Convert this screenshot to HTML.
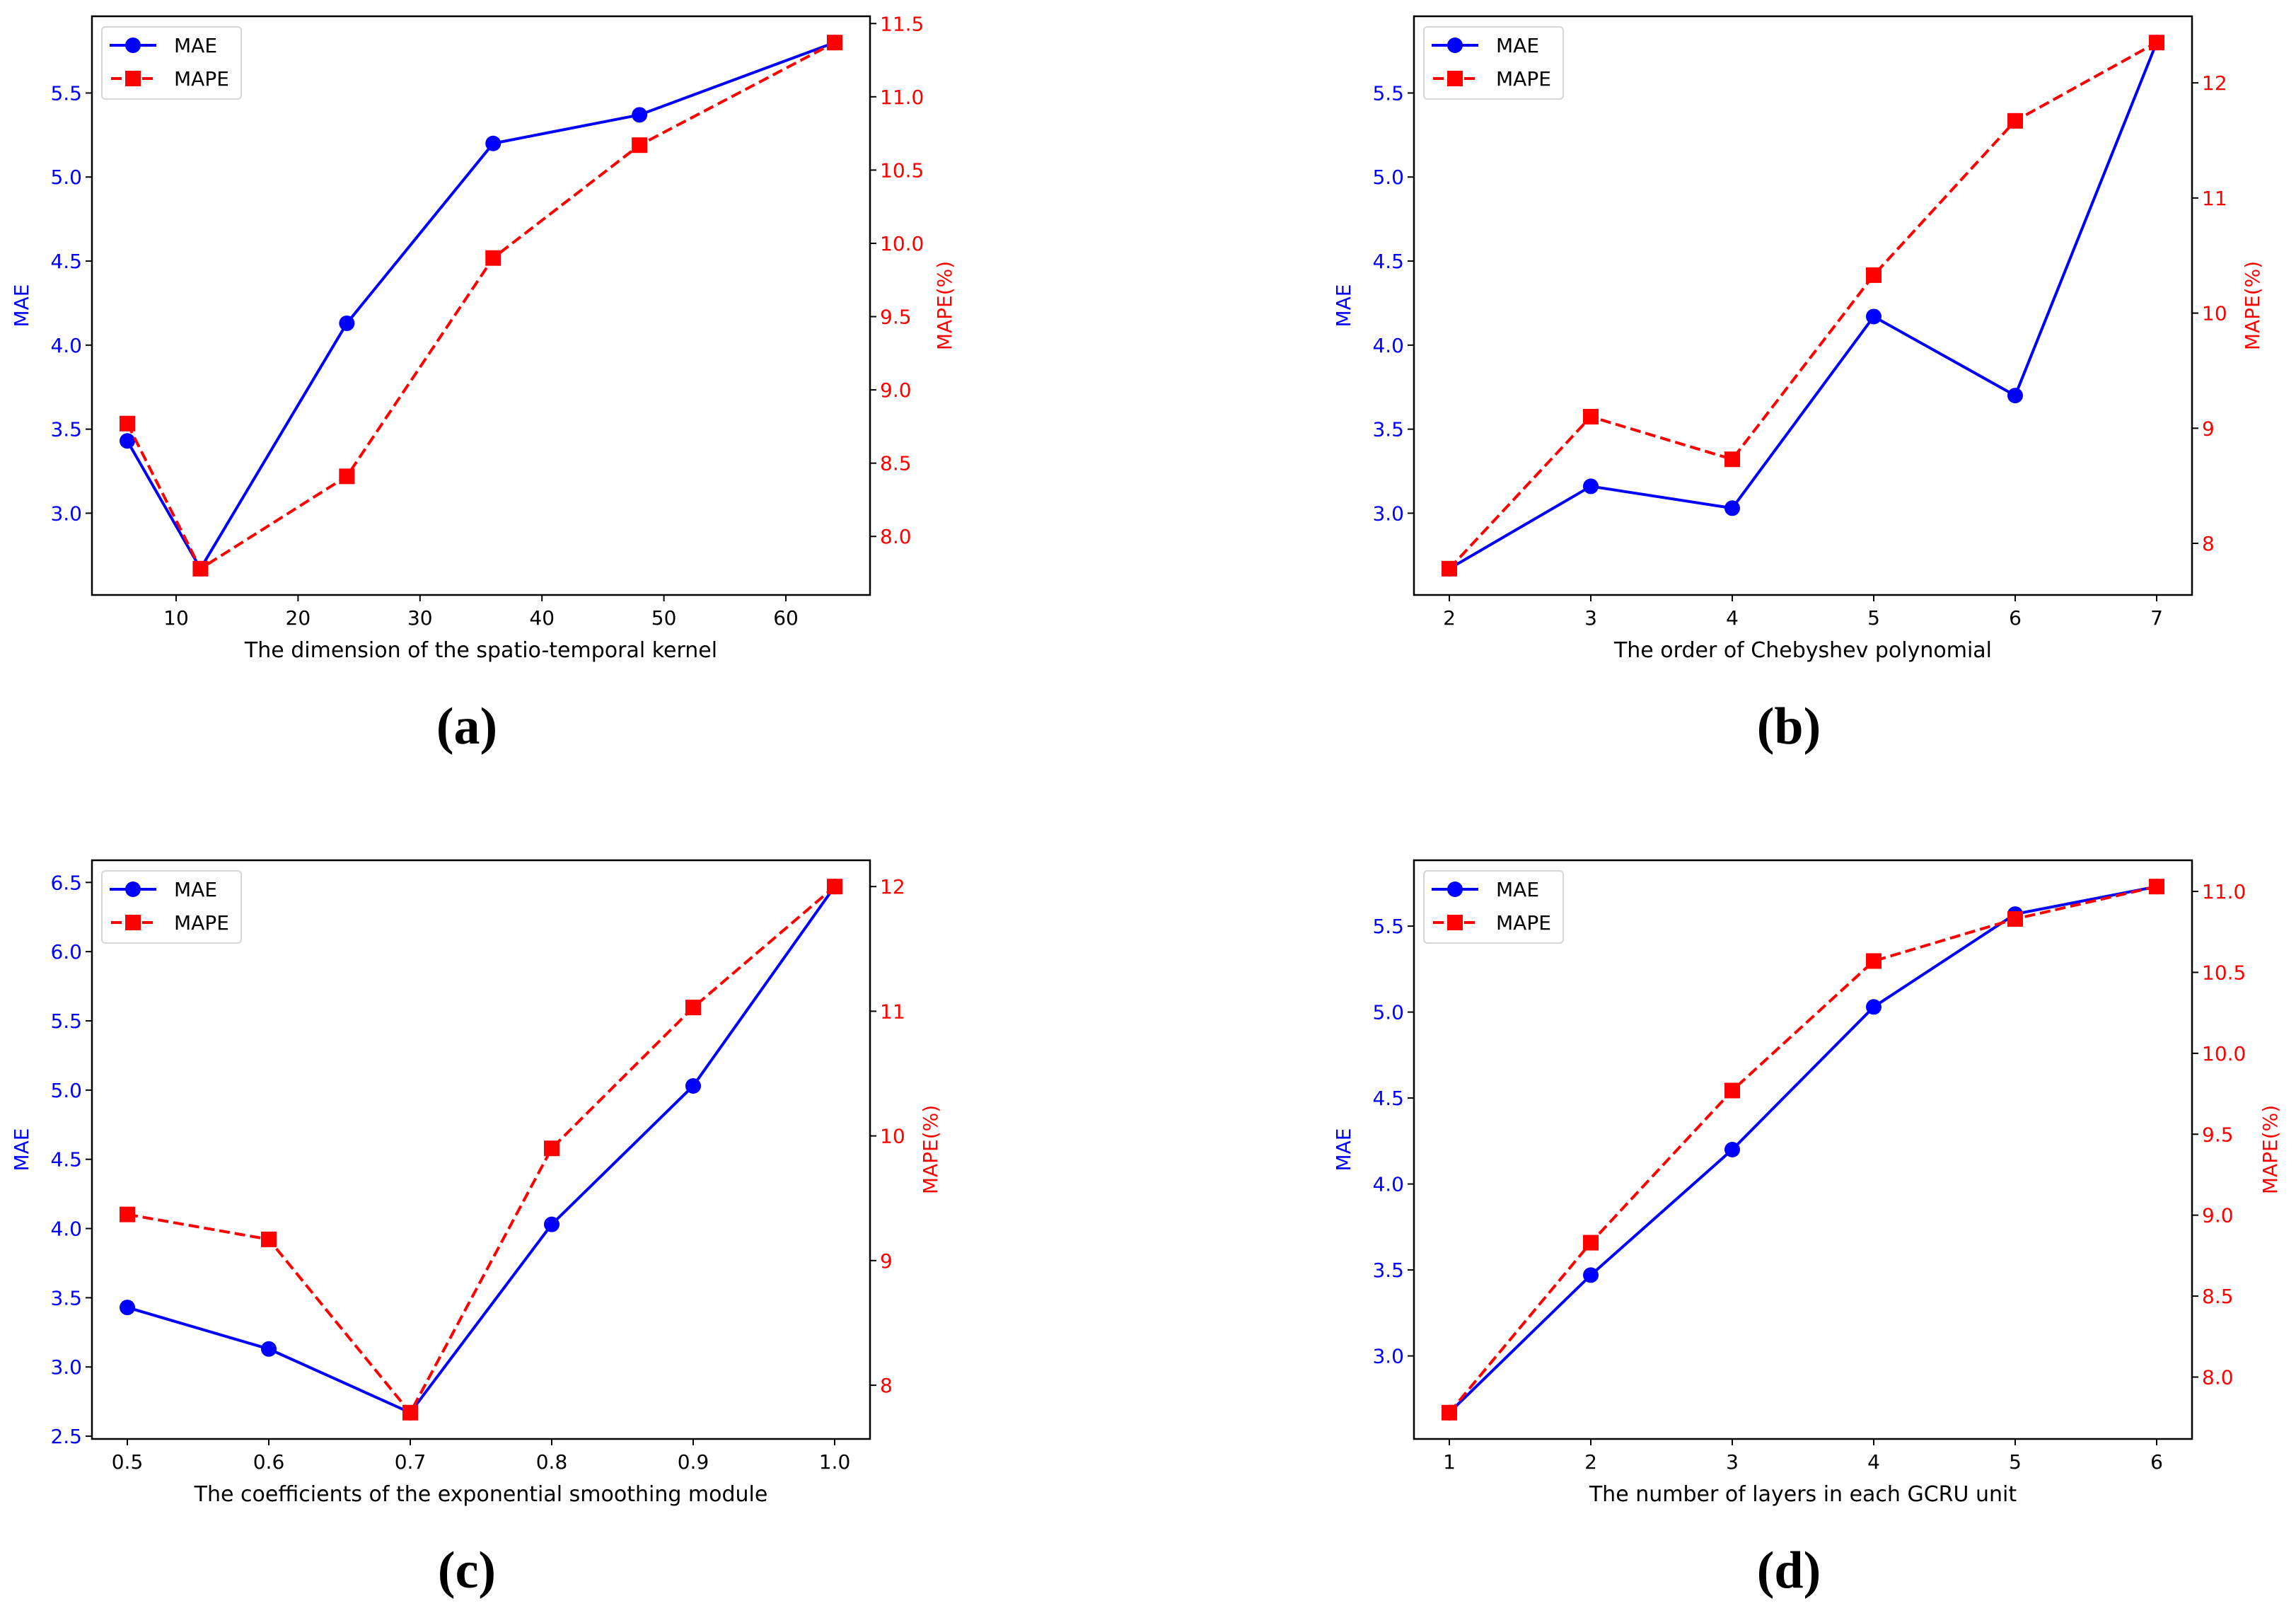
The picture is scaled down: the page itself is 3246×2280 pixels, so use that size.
<!DOCTYPE html>
<html><head><meta charset="utf-8"><style>
html,body{margin:0;padding:0;background:#fff;}
svg{display:block;font-family:"DejaVu Sans","Liberation Sans",sans-serif;}
</style></head><body>
<svg id="fig" width="3246" height="2280" viewBox="0 0 3246 2280" xmlns="http://www.w3.org/2000/svg"></svg>
<script>
// Panel (a)
const xA = [6, 12, 24, 36, 48, 64];
const maeA = [3.43, 2.67, 4.13, 5.20, 5.37, 5.80];
const mapeA = [8.77, 7.78, 8.41, 9.90, 10.67, 11.37];
const xTicksA = [10, 20, 30, 40, 50, 60];
const yTicksA = [3.0, 3.5, 4.0, 4.5, 5.0, 5.5];
const y2TicksA = [8.0, 8.5, 9.0, 9.5, 10.0, 10.5, 11.0, 11.5];
// Panel (b)
const xB = [2, 3, 4, 5, 6, 7];
const maeB = [2.67, 3.16, 3.03, 4.17, 3.70, 5.80];
const mapeB = [7.78, 9.10, 8.73, 10.33, 11.67, 12.35];
const xTicksB = [2, 3, 4, 5, 6, 7];
const yTicksB = [3.0, 3.5, 4.0, 4.5, 5.0, 5.5];
const y2TicksB = [8, 9, 10, 11, 12];
// Panel (c)
const xC = [0.5, 0.6, 0.7, 0.8, 0.9, 1.0];
const maeC = [3.43, 3.13, 2.67, 4.03, 5.03, 6.47];
const mapeC = [9.37, 9.17, 7.78, 9.90, 11.03, 12.0];
const xTicksC = [0.5, 0.6, 0.7, 0.8, 0.9, 1.0];
const yTicksC = [2.5, 3.0, 3.5, 4.0, 4.5, 5.0, 5.5, 6.0, 6.5];
const y2TicksC = [8, 9, 10, 11, 12];
// Panel (d)
const xD = [1, 2, 3, 4, 5, 6];
const maeD = [2.67, 3.47, 4.20, 5.03, 5.57, 5.73];
const mapeD = [7.78, 8.83, 9.77, 10.57, 10.83, 11.03];
const xTicksD = [1, 2, 3, 4, 5, 6];
const yTicksD = [3.0, 3.5, 4.0, 4.5, 5.0, 5.5];
const y2TicksD = [8.0, 8.5, 9.0, 9.5, 10.0, 10.5, 11.0];

const NS = "http://www.w3.org/2000/svg";
const svg = document.getElementById('fig');
function mk(tag, attrs, parent, text) {
  const e = document.createElementNS(NS, tag);
  for (const k in attrs) e.setAttribute(k, attrs[k]);
  if (text !== undefined) e.textContent = text;
  (parent || svg).appendChild(e);
  return e;
}
function ext(a) { const mn = Math.min(...a), mx = Math.max(...a), p = (mx - mn) * 0.05; return [mn - p, mx + p]; }
function fmt(v, dec) { return v.toFixed(dec); }

function panel(cfg) {
  const g = mk('g', {});
  
  
  const L = cfg.L, T = cfg.T, W = 1100, H = 818;
  const [x0, x1] = ext(cfg.x), [y0, y1] = ext(cfg.mae), [z0, z1] = ext(cfg.mape);
  const sx = v => L + (v - x0) / (x1 - x0) * W;
  const sy = v => T + H - (v - y0) / (y1 - y0) * H;
  const sz = v => T + H - (v - z0) / (z1 - z0) * H;
  const fr = mk('rect', {x: L, y: T, width: W, height: H, fill: 'none', stroke: '#000', 'stroke-width': 2.5}, g);
  
  
  cfg.xt.forEach(t => {
    const px = sx(t);
    mk('line', {x1: px, y1: T + H, x2: px, y2: T + H + 9, stroke: '#000', 'stroke-width': 2}, g);
    const tx = mk('text', {x: px, y: T + H + 42, 'font-size': 28, 'text-anchor': 'middle', fill: '#000'}, g, fmt(t, cfg.xdec));
    
    
  });
  cfg.yt.forEach(t => {
    const py = sy(t);
    mk('line', {x1: L - 9, y1: py, x2: L, y2: py, stroke: '#000', 'stroke-width': 2}, g);
    const tx = mk('text', {x: L - 14, y: py + 10, 'font-size': 28, 'text-anchor': 'end', fill: '#0000ff'}, g, fmt(t, 1));
    
    
  });
  cfg.zt.forEach(t => {
    const py = sz(t);
    mk('line', {x1: L + W, y1: py, x2: L + W + 9, y2: py, stroke: '#000', 'stroke-width': 2}, g);
    const tx = mk('text', {x: L + W + 14, y: py + 10, 'font-size': 28, 'text-anchor': 'start', fill: '#ff0000'}, g, fmt(t, cfg.zdec));
    
    
  });
  const xl = mk('text', {x: L + W / 2, y: T + H + 88, 'font-size': 30, 'text-anchor': 'middle', fill: '#000'}, g, cfg.xlabel);
  
  
  const yl = mk('text', {x: 0, y: 0, 'font-size': 28, 'text-anchor': 'middle', fill: '#0000ff', transform: `translate(${L - 90},${T + H / 2}) rotate(-90)`}, g, 'MAE');
  
  
  const zl = mk('text', {x: 0, y: 0, 'font-size': 28, 'text-anchor': 'middle', fill: '#ff0000', transform: `translate(${L + W + cfg.zoff},${T + H / 2}) rotate(-90)`}, g, 'MAPE(%)');
  
  
  const p1 = cfg.x.map((v, i) => sx(v) + ',' + sy(cfg.mae[i])).join(' ');
  const l1 = mk('polyline', {points: p1, fill: 'none', stroke: '#0000ff', 'stroke-width': 4}, g);
  
  
  cfg.x.forEach((v, i) => {
    const c = mk('circle', {cx: sx(v), cy: sy(cfg.mae[i]), r: 11, fill: '#0000ff'}, g);
    
    
  });
  const p2 = cfg.x.map((v, i) => sx(v) + ',' + sz(cfg.mape[i])).join(' ');
  const l2 = mk('polyline', {points: p2, fill: 'none', stroke: '#ff0000', 'stroke-width': 4, 'stroke-dasharray': '15,7'}, g);
  
  
  cfg.x.forEach((v, i) => {
    const r = mk('rect', {x: sx(v) - 11, y: sz(cfg.mape[i]) - 11, width: 22, height: 22, fill: '#ff0000'}, g);
    
    
  });
  const lg = mk('g', {}, g);
  
  
  mk('rect', {x: L + 14, y: T + 15, width: 197, height: 102, rx: 5, fill: '#fff', 'fill-opacity': 0.85, stroke: '#d6d6d6', 'stroke-width': 2}, lg);
  mk('line', {x1: L + 25, y1: T + 41, x2: L + 91, y2: T + 41, stroke: '#0000ff', 'stroke-width': 4}, lg);
  mk('circle', {cx: L + 58, cy: T + 41, r: 11, fill: '#0000ff'}, lg);
  const e1 = mk('text', {x: L + 116, y: T + 51, 'font-size': 28, fill: '#000'}, lg, 'MAE');
  
  
  mk('line', {x1: L + 27, y1: T + 88, x2: L + 89, y2: T + 88, stroke: '#ff0000', 'stroke-width': 4, 'stroke-dasharray': '15,7'}, lg);
  mk('rect', {x: L + 47, y: T + 77, width: 22, height: 22, fill: '#ff0000'}, lg);
  const e2 = mk('text', {x: L + 116, y: T + 98, 'font-size': 28, fill: '#000'}, lg, 'MAPE');
  
  
  const cap = mk('text', {x: L + W / 2 - 20, y: T + H + 210, 'font-size': 74, 'font-weight': 'bold', 'text-anchor': 'middle', fill: '#000', 'font-family': '"Liberation Serif", serif'}, g, '(' + cfg.id + ')');
  
  
}

panel({id: 'a', L: 130, T: 23, x: xA, mae: maeA, mape: mapeA, xt: xTicksA, yt: yTicksA, zt: y2TicksA, xdec: 0, zdec: 1, zoff: 115, xlabel: 'The dimension of the spatio-temporal kernel'});
panel({id: 'b', L: 1999, T: 23, x: xB, mae: maeB, mape: mapeB, xt: xTicksB, yt: yTicksB, zt: y2TicksB, xdec: 0, zdec: 0, zoff: 95, xlabel: 'The order of Chebyshev polynomial'});
panel({id: 'c', L: 130, T: 1216, x: xC, mae: maeC, mape: mapeC, xt: xTicksC, yt: yTicksC, zt: y2TicksC, xdec: 1, zdec: 0, zoff: 95, xlabel: 'The coefficients of the exponential smoothing module'});
panel({id: 'd', L: 1999, T: 1216, x: xD, mae: maeD, mape: mapeD, xt: xTicksD, yt: yTicksD, zt: y2TicksD, xdec: 0, zdec: 1, zoff: 120, xlabel: 'The number of layers in each GCRU unit'});
</script>
</body></html>
